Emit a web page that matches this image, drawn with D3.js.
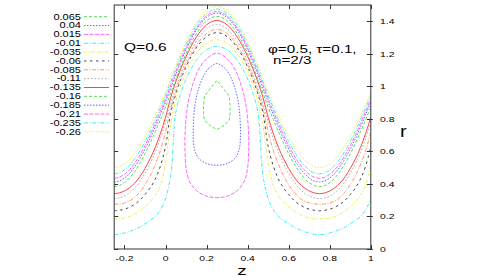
<!DOCTYPE html>
<html lang="en">
<head>
<meta charset="UTF-8">
<title>streamlines</title>
<script src="https://cdn.jsdelivr.net/npm/d3@7"></script>
<style>
  body { margin: 0; background: #fff; }
  text { font-family: "Liberation Sans", Arial, sans-serif; fill: #000; }
</style>
</head>
<body>
<svg id="mainsvg" width="485" height="277"></svg>
<script>
// legend levels (psi values), top to bottom
const levels = ['0.065', '0.04', '0.015', '-0.01', '-0.035', '-0.06', '-0.085', '-0.11', '-0.135', '-0.16', '-0.185', '-0.21', '-0.235', '-0.26'];
const lineColors = ['#55dd55', '#6666ff', '#ff66ff', '#44eeee', '#eeee44', '#444444', '#ff9966', '#aaaaaa', '#ff4444', '#55dd55', '#6666ff', '#ff66ff', '#44eeee', '#eeee44'];
const lineDashes = ['3,2', '1.5,1.5', '4,1.5', '4,1.5,1,1.5', '3,1.5,1,1.5', '2.5,3.5', '4,1.5,1,1.5', '1.5,2', null, '3,2', '1.5,1.5', '4,1.5', '4,1.5,1,1.5', '1.5,1.5'];

const xTicks = [-0.2, 0, 0.2, 0.4, 0.6, 0.8, 1];
const yTicks = [0, 0.2, 0.4, 0.6, 0.8, 1, 1.2, 1.4];

// z positions of the open streamlines
const zGrid = [-0.25, -0.225, -0.2, -0.175, -0.15, -0.125, -0.1, -0.075, -0.05, -0.025,
  0, 0.025, 0.05, 0.075, 0.1, 0.125, 0.15, 0.175, 0.2, 0.225,
  0.25, 0.275, 0.3, 0.325, 0.35, 0.375, 0.4, 0.425, 0.45, 0.475,
  0.5, 0.525, 0.55, 0.575, 0.6, 0.625, 0.65, 0.675, 0.7, 0.725,
  0.75, 0.775, 0.8, 0.825, 0.85, 0.875, 0.9, 0.925, 0.95, 0.975, 1];

// r along each open streamline
const rM001 = [0.088,0.091,0.098,0.108,0.12,0.135,0.155,0.175,0.20,0.24,0.31,0.45,0.84,0.96,1.045,1.11,1.16,1.198,1.225,1.24,1.245,1.24,1.225,1.198,1.16,1.11,1.045,0.96,0.84,0.45,0.31,0.24,0.20,0.175,0.155,0.135,0.12,0.108,0.098,0.091,0.088,0.091,0.098,0.108,0.12,0.135,0.155,0.175,0.20,0.24,0.31];
const rM035 = [0.185,0.186,0.19,0.2,0.215,0.235,0.26,0.29,0.33,0.39,0.53,0.76,0.91,1.01,1.088,1.15,1.2,1.238,1.265,1.281,1.286,1.281,1.265,1.238,1.2,1.15,1.088,1.01,0.91,0.76,0.53,0.39,0.33,0.29,0.26,0.235,0.215,0.2,0.19,0.186,0.185,0.186,0.19,0.2,0.215,0.235,0.26,0.29,0.33,0.39,0.53];
const rM060 = [0.235,0.238,0.245,0.257,0.275,0.30,0.335,0.375,0.43,0.51,0.63,0.835,0.953,1.044,1.120,1.184,1.236,1.277,1.306,1.324,1.33,1.324,1.306,1.277,1.236,1.184,1.120,1.044,0.953,0.835,0.63,0.51,0.43,0.375,0.335,0.30,0.275,0.257,0.245,0.238,0.235,0.238,0.245,0.257,0.275,0.30,0.335,0.375,0.43,0.51,0.63];
const rM085 = [0.275,0.277,0.283,0.295,0.317,0.35,0.395,0.45,0.52,0.605,0.72,0.862,0.968,1.056,1.132,1.197,1.251,1.294,1.325,1.344,1.35,1.344,1.325,1.294,1.251,1.197,1.132,1.056,0.968,0.862,0.72,0.605,0.52,0.45,0.395,0.35,0.317,0.295,0.283,0.277,0.275,0.277,0.283,0.295,0.317,0.35,0.395,0.45,0.52,0.605,0.72];
const rM110 = [0.31,0.314,0.325,0.345,0.375,0.415,0.465,0.525,0.595,0.68,0.78,0.89,0.99,1.076,1.153,1.220,1.276,1.320,1.353,1.373,1.38,1.373,1.353,1.320,1.276,1.220,1.153,1.076,0.99,0.89,0.78,0.68,0.595,0.525,0.465,0.415,0.375,0.345,0.325,0.314,0.31,0.314,0.325,0.345,0.375,0.415,0.465,0.525,0.595,0.68,0.78];
const rM135 = [0.34,0.345,0.357,0.377,0.405,0.445,0.495,0.555,0.625,0.71,0.81,0.930,1.028,1.110,1.183,1.248,1.302,1.346,1.378,1.398,1.405,1.398,1.378,1.346,1.302,1.248,1.183,1.110,1.028,0.930,0.81,0.71,0.625,0.555,0.495,0.445,0.405,0.377,0.357,0.345,0.34,0.345,0.357,0.377,0.405,0.445,0.495,0.555,0.625,0.71,0.81];
const rM160 = [0.384,0.390,0.408,0.437,0.477,0.527,0.585,0.650,0.721,0.796,0.872,0.959,1.044,1.125,1.200,1.267,1.323,1.369,1.403,1.423,1.43,1.423,1.403,1.369,1.323,1.267,1.200,1.125,1.044,0.959,0.872,0.796,0.721,0.650,0.585,0.527,0.477,0.437,0.408,0.390,0.384,0.390,0.408,0.437,0.477,0.527,0.585,0.650,0.721,0.796,0.872];
const rM185 = [0.412,0.418,0.436,0.466,0.506,0.556,0.614,0.680,0.751,0.826,0.903,0.989,1.072,1.151,1.225,1.290,1.346,1.390,1.423,1.443,1.45,1.443,1.423,1.390,1.346,1.290,1.225,1.151,1.072,0.989,0.903,0.826,0.751,0.680,0.614,0.556,0.506,0.466,0.436,0.418,0.412,0.418,0.436,0.466,0.506,0.556,0.614,0.680,0.751,0.826,0.903];
const rM210 = [0.435,0.441,0.459,0.488,0.528,0.578,0.636,0.701,0.772,0.847,0.923,1.007,1.089,1.167,1.239,1.303,1.357,1.401,1.434,1.453,1.46,1.453,1.434,1.401,1.357,1.303,1.239,1.167,1.089,1.007,0.923,0.847,0.772,0.701,0.636,0.578,0.528,0.488,0.459,0.441,0.435,0.441,0.459,0.488,0.528,0.578,0.636,0.701,0.772,0.847,0.923];
const rM235 = [0.462,0.468,0.486,0.515,0.554,0.603,0.661,0.725,0.795,0.869,0.944,1.027,1.108,1.185,1.256,1.319,1.374,1.417,1.449,1.468,1.475,1.468,1.449,1.417,1.374,1.319,1.256,1.185,1.108,1.027,0.944,0.869,0.795,0.725,0.661,0.603,0.554,0.515,0.486,0.468,0.462,0.468,0.486,0.515,0.554,0.603,0.661,0.725,0.795,0.869,0.944];
const rM260 = [0.50,0.506,0.523,0.551,0.589,0.636,0.692,0.754,0.821,0.892,0.965,1.047,1.127,1.203,1.274,1.336,1.390,1.433,1.464,1.484,1.49,1.484,1.464,1.433,1.390,1.336,1.274,1.203,1.127,1.047,0.965,0.892,0.821,0.754,0.692,0.636,0.589,0.551,0.523,0.506,0.50,0.506,0.523,0.551,0.589,0.636,0.692,0.754,0.821,0.892,0.965];

// closed streamlines (trapped bolus), [z, r]
const loop065 = [[0.25,1.035],[0.22,0.99],[0.19,0.94],[0.185,0.88],[0.186,0.82],[0.19,0.79],[0.22,0.755],[0.25,0.735],[0.28,0.755],[0.31,0.79],[0.314,0.82],[0.315,0.88],[0.31,0.94],[0.28,0.99]];
const loop040 = [[0.25,1.14],[0.21,1.11],[0.18,1.05],[0.16,0.98],[0.145,0.9],[0.137,0.8],[0.135,0.7],[0.14,0.62],[0.16,0.56],[0.2,0.525],[0.25,0.515],[0.3,0.525],[0.34,0.56],[0.36,0.62],[0.365,0.7],[0.363,0.8],[0.355,0.9],[0.34,0.98],[0.32,1.05],[0.29,1.11]];
const loop015 = [[0.25,1.204],[0.2,1.17],[0.16,1.1],[0.13,1.0],[0.11,0.9],[0.1,0.8],[0.095,0.7],[0.095,0.6],[0.1,0.5],[0.115,0.42],[0.15,0.36],[0.2,0.325],[0.25,0.316],[0.3,0.325],[0.35,0.36],[0.385,0.42],[0.4,0.5],[0.405,0.6],[0.405,0.7],[0.4,0.8],[0.39,0.9],[0.37,1.0],[0.34,1.1],[0.3,1.17]];

const svg = d3.select('#mainsvg');
const plot = { left: 114.2, right: 370.8, top: 5, bottom: 249 };
const xScale = d3.scaleLinear().domain([-0.25, 1]).range([plot.left, plot.right]);
const yScale = d3.scaleLinear().domain([0, 1.5]).range([plot.bottom, plot.top]);

// text is stretched sideways like the source image
function label(g, x, y, str, size, anchor, sx) {
  return g.append('text')
    .attr('transform', `translate(${x},${y}) scale(${sx},1)`)
    .attr('font-size', size)
    .attr('text-anchor', anchor)
    .text(str);
}

svg.append('clipPath').attr('id', 'clip')
  .append('rect')
  .attr('x', plot.left).attr('y', plot.top)
  .attr('width', plot.right - plot.left).attr('height', plot.bottom - plot.top);

const lines = svg.append('g').attr('clip-path', 'url(#clip)');
const line = d3.line().x(d => xScale(d[0])).y(d => yScale(d[1])).curve(d3.curveCatmullRom);

const openSets = [rM001, rM035, rM060, rM085, rM110, rM135, rM160, rM185, rM210, rM235, rM260];
openSets.forEach((rs, k) => {
  const idx = k + 3;
  lines.append('path')
    .attr('d', line(zGrid.map((z, i) => [z, rs[i]])))
    .attr('fill', 'none')
    .attr('stroke', lineColors[idx])
    .attr('stroke-width', 1)
    .attr('stroke-dasharray', lineDashes[idx]);
});

const loops = [loop065, loop040, loop015];
loops.forEach((pts, k) => {
  const curve = k === 0 ? d3.curveLinearClosed : d3.curveCatmullRomClosed;
  lines.append('path')
    .attr('d', d3.line().x(d => xScale(d[0])).y(d => yScale(d[1])).curve(curve)(pts))
    .attr('fill', 'none')
    .attr('stroke', lineColors[k])
    .attr('stroke-width', 1)
    .attr('stroke-dasharray', lineDashes[k]);
});

// frame and ticks
const frame = svg.append('g').attr('stroke', '#333').attr('stroke-width', 1).attr('fill', 'none');
frame.append('rect')
  .attr('x', plot.left).attr('y', plot.top)
  .attr('width', plot.right - plot.left).attr('height', plot.bottom - plot.top);
xTicks.forEach(t => {
  const x = Math.round(xScale(t)) + 0.5;
  frame.append('line').attr('x1', x).attr('x2', x).attr('y1', plot.bottom).attr('y2', plot.bottom - 4);
  frame.append('line').attr('x1', x).attr('x2', x).attr('y1', plot.top).attr('y2', plot.top + 4);
});
yTicks.forEach(t => {
  const y = Math.round(yScale(t)) + 0.5;
  frame.append('line').attr('x1', plot.left).attr('x2', plot.left + 4).attr('y1', y).attr('y2', y);
  frame.append('line').attr('x1', plot.right - 4).attr('x2', plot.right + 2).attr('y1', y).attr('y2', y);
});

const texts = svg.append('g');
xTicks.forEach(t => label(texts, xScale(t), 260.5, String(t), 8, 'middle', 1.3));
yTicks.forEach(t => label(texts, 380, yScale(t) + 3, String(t), 8, 'start', 1.3));

label(texts, 242, 275.3, 'z', 13, 'middle', 1.45);
label(texts, 400, 137, 'r', 16, 'start', 1.25);

label(texts, 124, 50.5, 'Q=0.6', 11.5, 'start', 1.35);
label(texts, 268, 52.5, 'φ=0.5, τ=0.1,', 10.5, 'start', 1.45);
label(texts, 273, 63.5, 'n=2/3', 10.5, 'start', 1.45);

// key
const key = svg.append('g');
levels.forEach((lv, i) => {
  const y = 16.7 + i * 8.85;
  label(key, 81, y + 2.8, lv, 8.5, 'end', 1.3);
  key.append('line')
    .attr('x1', 84).attr('x2', 109).attr('y1', y).attr('y2', y)
    .attr('stroke', lineColors[i])
    .attr('stroke-width', 1)
    .attr('stroke-dasharray', lineDashes[i]);
});
</script>
</body>
</html>
